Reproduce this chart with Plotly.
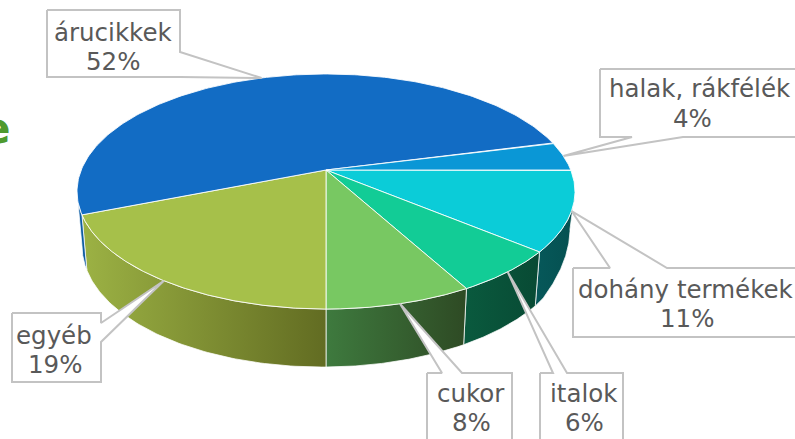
import numpy as np
import plotly.graph_objects as go

# ---- data (clockwise from 3 o'clock) ----
labels = ["dohány termékek", "italok", "cukor", "egyéb", "árucikkek", "halak, rákfélék"]
values = [11, 6, 8, 19, 52, 4]

top_colors = ["#0BCCD8", "#12CC96", "#78C862", "#A6C04A", "#126CC4", "#0A97D6"]
side_colors = [("#06585A", "#055050"), ("#0A5A3E", "#084A34"), ("#3E7A3E", "#2E4A24"),
               ("#9CB244", "#626C22"), ("#1060A8", "#0E5A9E"), ("#0A80B8", "#0A80B8")]

# ---- geometry of the 3D view (pixel-like data units) ----
CX, CY = 326.0, 170.0
A, B, K = 244.8, 113.6, 0.183
SIL = np.degrees(np.arcsin(K))


def top_pt(phi_deg):
    p = np.radians(phi_deg)
    u, w = np.cos(p), np.sin(p)
    f = 1.0 / (1.0 + K * w)
    return CX + A * u * f, CY - B * w * f


def bot_pt(phi_deg):
    p = np.radians(phi_deg)
    u, w = np.cos(p), np.sin(p)
    x, y = top_pt(phi_deg)
    depth = 51 + 7 * (-w) - 2 * u - 70 * max(0.0, u - 0.8)
    return CX + (x - CX) * 0.98, y + depth


fig = go.Figure()

# slice angle ranges
bounds = []
a = 0.0
for v in values:
    b = a - 360.0 * v / 100.0
    bounds.append((a, b))
    a = b

# walls
for (a0, a1), (c0, c1) in zip(bounds, side_colors):
    hi = min(a0, -SIL)
    lo = max(a1, -180 + SIL)
    if hi <= lo:
        continue
    phis = np.linspace(hi, lo, 80)
    tx, ty = zip(*[top_pt(p) for p in phis])
    bx, by = zip(*[bot_pt(p) for p in phis[::-1]])
    xs = list(tx) + list(bx) + [tx[0]]
    ys = list(ty) + list(by) + [ty[0]]
    fig.add_trace(go.Scatter(
        x=xs, y=ys, mode="lines", fill="toself",
        fillgradient=dict(type="horizontal", colorscale=[[0, c0], [1, c1]]),
        line=dict(color="rgba(255,255,255,0.75)", width=1),
        hoverinfo="skip", showlegend=False))

# top faces
for (a0, a1), col in zip(bounds, top_colors):
    phis = np.linspace(a0, a1, 200)
    pts = [top_pt(p) for p in phis]
    xs = [CX] + [p[0] for p in pts] + [CX]
    ys = [CY] + [p[1] for p in pts] + [CY]
    fig.add_trace(go.Scatter(
        x=xs, y=ys, mode="lines", fill="toself", fillcolor=col,
        line=dict(color="rgba(255,255,255,0.85)", width=1),
        hoverinfo="skip", showlegend=False))

# ---- callouts: box, tail side, tail base, text centre x (label, pct) ----
boxes = {
    "dohány termékek": ((573, 268, 800, 337), "top", 610, 667, (686, 687)),
    "italok": ((540, 373, 623, 450), "top", 553, 567, (584, 584)),
    "cukor": ((427, 373, 512, 450), "top", 442, 462, (471, 471)),
    "egyéb": ((12, 313, 101, 382), "right", 323, 342, (54, 55)),
    "árucikkek": ((47, 10, 180, 77), "right", 52, 77, (113, 113)),
    "halak, rákfélék": ((600, 69, 800, 137), "bottom", 632, 683, (700, 692)),
}
text_mid = {  # vertical centre of the two text lines
    "dohány termékek": (289, 318), "italok": (393, 422), "cukor": (393, 422),
    "egyéb": (335, 364), "árucikkek": (32, 61), "halak, rákfélék": (88, 118),
}


def callout_poly(box, side, b1, b2, tip):
    x0, y0, x1, y1 = box
    tx, ty = tip
    if side == "top":
        pts = [(x0, y0), (b1, y0), (tx, ty), (b2, y0), (x1, y0), (x1, y1), (x0, y1), (x0, y0)]
    elif side == "bottom":
        pts = [(x0, y0), (x1, y0), (x1, y1), (b2, y1), (tx, ty), (b1, y1), (x0, y1), (x0, y0)]
    else:
        pts = [(x0, y0), (x1, y0), (x1, b1), (tx, ty), (x1, b2), (x1, y1), (x0, y1), (x0, y0)]
    return [p[0] for p in pts], [p[1] for p in pts]


FONT = dict(family="DejaVu Sans", size=24.5, color="#595959")
annotations = []
for lab, v, (a0, a1) in zip(labels, values, bounds):
    box, side, b1, b2, (xl, xp) = boxes[lab]
    tip = top_pt((a0 + a1) / 2.0)
    xs, ys = callout_poly(box, side, b1, b2, tip)
    fig.add_trace(go.Scatter(
        x=xs, y=ys, mode="lines", fill="toself", fillcolor="white",
        line=dict(color="#C3C3C3", width=2),
        hoverinfo="skip", showlegend=False))
    yl, yp = text_mid[lab]
    annotations.append(dict(x=xl, y=yl, xref="x", yref="y", showarrow=False,
                            text=lab, font=FONT, xanchor="center", yanchor="middle"))
    annotations.append(dict(x=xp, y=yp, xref="x", yref="y", showarrow=False,
                            text=f"{v}%", font=FONT, xanchor="center", yanchor="middle"))

annotations.append(dict(
    x=13, y=128, xref="x", yref="y", showarrow=False, text="<b>e</b>",
    font=dict(family="DejaVu Sans", size=42, color="#4E9A2F"),
    xanchor="right", yanchor="middle"))

fig.update_layout(
    width=795, height=439, autosize=False,
    margin=dict(l=0, r=0, t=0, b=0),
    paper_bgcolor="white", plot_bgcolor="white",
    xaxis=dict(range=[0, 795], visible=False, fixedrange=True),
    yaxis=dict(range=[439, 0], visible=False, fixedrange=True),
    annotations=annotations, showlegend=False, hovermode=False)

fig.write_html("out.html", config={"displayModeBar": False},
               post_script="document.body.style.margin='0';")
